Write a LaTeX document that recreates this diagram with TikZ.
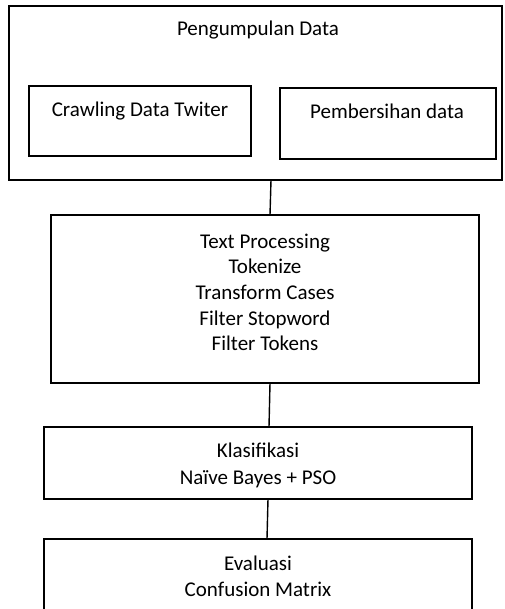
\documentclass[tikz,border=0pt]{standalone}
\usepackage{fontspec}
\setmainfont{Carlito}
\begin{document}
\begin{tikzpicture}[x=1pt,y=-1pt,
  box/.style={draw=black,line width=1.2pt,rectangle,inner sep=0pt,outer sep=0pt,fill=none},
  txt/.style={inner sep=0pt,align=center,anchor=base,font=\fontsize{21}{25.8}\selectfont},
  conn/.style={draw=black,line width=1.4pt}]
\useasboundingbox (0,0) rectangle (504,609);
\clip (0,0) rectangle (504,609);
% boxes
\node[box,minimum width=493pt,minimum height=174pt] (outer) at (255.5,93) {};
\node[box,minimum width=222pt,minimum height=70pt] (crawl) at (140,121) {};
\node[box,minimum width=216pt,minimum height=71pt] (bersih) at (388,123.5) {};
\node[box,minimum width=428pt,minimum height=168pt] (tp) at (265,299) {};
\node[box,minimum width=428pt,minimum height=72pt] (kl) at (258,463) {};
\node[box,minimum width=428pt,minimum height=111pt] (ev) at (258,594.5) {};
% texts
\node[txt] (t1) at (258,36) {Pengumpulan Data};
\node[txt] (t2) at (140,117) {Crawling Data Twiter};
\node[txt] (t3) at (387,119) {Pembersihan data};
\node[txt] (t4) at (265,248) {Text Processing};
\node[txt] (t5) at (265,273.7) {Tokenize};
\node[txt] (t6) at (265,299.4) {Transform Cases};
\node[txt] (t7) at (265,325.1) {Filter Stopword};
\node[txt] (t8) at (265,350.8) {Filter Tokens};
\node[txt] (t9) at (258,457) {Klasifikasi};
\node[txt] (t10) at (258,484) {Naïve Bayes + PSO};
\node[txt] (t11) at (258,570) {Evaluasi};
\node[txt] (t12) at (258,596) {Confusion Matrix};
% connectors
\draw[conn] (outer.south -| 271,0) -- (tp.north -| 270,0);
\draw[conn] (tp.south -| 270,0) -- (kl.north -| 269,0);
\draw[conn] (kl.south -| 268,0) -- (ev.north -| 267,0);
\end{tikzpicture}
\end{document}
